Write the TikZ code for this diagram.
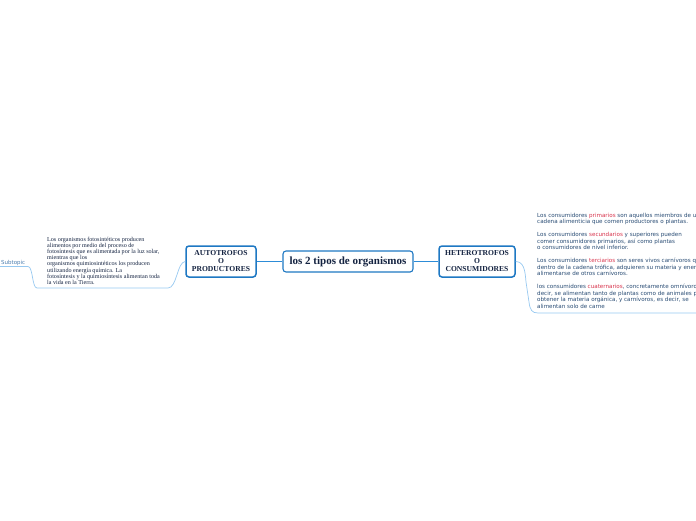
\documentclass[tikz,border=0pt]{standalone}
\usepackage{fontspec}
\setmainfont{Liberation Serif}
\newfontfamily\sansmap{DejaVu Sans}
\usepackage{tikz}
\usetikzlibrary{positioning}
\definecolor{borde}{RGB}{30,120,195}
\definecolor{enlace}{RGB}{45,140,215}
\definecolor{ramita}{RGB}{150,200,240}
\definecolor{tinta}{RGB}{20,35,65}
\definecolor{nota}{RGB}{40,75,115}
\definecolor{resalte}{RGB}{215,50,75}
\definecolor{subtono}{RGB}{75,125,175}
\newcommand{\rojo}[1]{\textcolor{resalte}{#1}}

\begin{document}
\begin{tikzpicture}[x=1pt, y=-1pt,
  hub/.style={rectangle, rounded corners=3pt, draw=borde, line width=1.1pt, fill=white,
              minimum width=130pt, minimum height=21pt, text=tinta,
              font=\fontsize{11}{12}\selectfont\bfseries},
  rama/.style={rectangle, rounded corners=3pt, draw=borde, line width=1.5pt, fill=white,
               minimum height=31pt, inner sep=1pt, text=tinta, align=center,
               font=\fontsize{7.6}{8}\selectfont\bfseries},
  unir/.style={draw=enlace, line width=1.2pt},
  hilo/.style={draw=ramita, line width=0.7pt},
  textito/.style={inner sep=0pt, anchor=north west, align=left}]
  \useasboundingbox (0,0) rectangle (696,520);

  % centro y ramas
  \node[hub] (tipos) at (348,261.5) {los 2 tipos de organismos};
  \node[rama, minimum width=70pt] (auto) at (221,261.5) {AUTOTROFOS\\O\\PRODUCTORES};
  \node[rama, minimum width=76pt] (hetero) at (477,261.5) {HETEROTROFOS\\O\\CONSUMIDORES};
  \draw[unir] (auto) -- (tipos);
  \draw[unir] (tipos) -- (hetero);

  % lado izquierdo
  \node[inner sep=1pt, anchor=south west, text=subtono, font=\sansmap\fontsize{5.5}{6}\selectfont]
    (subt) at (0,266.5) {Subtopic};
  \node[textito, text=tinta, font=\fontsize{6.1}{6.1}\selectfont] (fotos) at (47,237)
    {Los organismos fotosintéticos producen\\
     alimentos por medio del proceso de\\
     fotosíntesis que es alimentada por la luz solar,\\
     mientras que los\\
     organismos quimiosintéticos los producen\\
     utilizando energía química. La\\
     fotosíntesis y la quimiosíntesis alimentan toda\\
     la vida en la Tierra.};
  \coordinate (izq1) at (168,288);
  \coordinate (izq2) at (37,288);
  \draw[hilo] (auto.west) .. controls (177,262) and (177,288) .. (izq1) -- (izq2)
    .. controls (32,288) and (33,266.5) .. (28,266.5) -- (subt.south west);

  % lado derecho
  \node[textito, text=nota, font=\sansmap\fontsize{5.6}{6.5}\selectfont] (consum) at (537,213)
    {Los consumidores \rojo{primarios} son aquellos miembros de una\\
     cadena alimenticia que comen productores o plantas.\\[6.5pt]
     Los consumidores \rojo{secundarios} y superiores pueden\\
     comer consumidores primarios, así como plantas\\
     o consumidores de nivel inferior.\\[6.5pt]
     Los consumidores \rojo{terciarios} son seres vivos carnívoros que\\
     dentro de la cadena trófica, adquieren su materia y energía al\\
     alimentarse de otros carnívoros.\\[6.5pt]
     los consumidores \rojo{cuaternarios}, concretamente omnívoros, es\\
     decir, se alimentan tanto de plantas como de animales para\\
     obtener la materia orgánica, y carnívoros, es decir, se\\
     alimentan solo de carne};
  \coordinate (der1) at (538,313);
  \coordinate (der2) at (700,313);
  \draw[hilo] (hetero.east) .. controls (524,262) and (525,270) .. (526,282)
    -- (529,302) .. controls (530,310) and (532,313) .. (der1) -- (der2);
\end{tikzpicture}
\end{document}
